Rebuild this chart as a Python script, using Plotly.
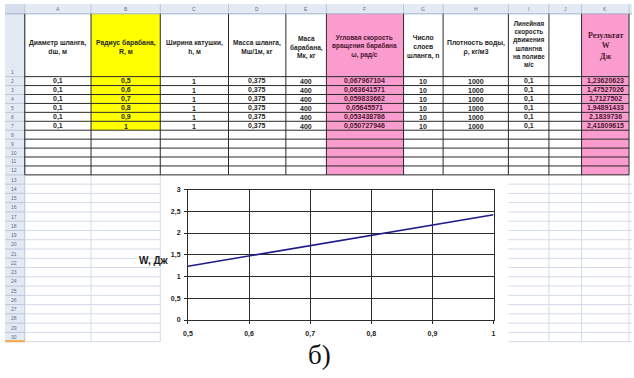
import plotly.graph_objects as go

# ---------------- data ----------------
col_letters = ["A", "B", "C", "D", "E", "F", "G", "H", "I", "J", "K"]
header_texts = [
    "Диаметр шланга,<br>dш, м",
    "Радиус барабана,<br>R, м",
    "Ширина катушки,<br>h, м",
    "Масса шланга,<br>Мш/1м, кг",
    "Маса<br>барабана,<br>Мк, кг",
    "Угловая скорость<br>вращения барабана<br>ω, рад/с",
    "Число<br>слоев<br>шланга, n",
    "Плотность воды,<br>ρ, кг/м3",
    "Линейная<br>скорость<br>движения<br>шлангна<br>на поливе<br>м/с",
    "",
    "Результат<br>W<br>Дж",
]
hose_diameter = [0.1, 0.1, 0.1, 0.1, 0.1, 0.1]
drum_radius = [0.5, 0.6, 0.7, 0.8, 0.9, 1]
coil_width = [1, 1, 1, 1, 1, 1]
hose_mass = [0.375, 0.375, 0.375, 0.375, 0.375, 0.375]
drum_mass = [400, 400, 400, 400, 400, 400]
angular_speed = [0.067967104, 0.063641571, 0.059833662, 0.05645571, 0.053438786, 0.050727946]
layers = [10, 10, 10, 10, 10, 10]
water_density = [1000, 1000, 1000, 1000, 1000, 1000]
linear_speed = [0.1, 0.1, 0.1, 0.1, 0.1, 0.1]
energy_w = [1.23620623, 1.47527026, 1.7127502, 1.94891433, 2.1839736, 2.41809615]

x_ticks = [0.5, 0.6, 0.7, 0.8, 0.9, 1]
y_ticks = [0, 0.5, 1, 1.5, 2, 2.5, 3]

# ---------------- sheet geometry (pixels) ----------------
W_PX, H_PX = 634, 378
col_edges = [20, 87, 157, 226, 284, 325, 403, 443, 509, 550, 583, 631]
hdr_h = 10
row1_bottom = 74
data_row_h = 9.1
n_table_rows = 11          # rows 2..12
lower_row_h = 9.44
n_lower_rows = 18          # rows 13..30
table_bottom = row1_bottom + data_row_h * n_table_rows
sheet_bottom = table_bottom + lower_row_h * n_lower_rows

HDR_FILL = "#e3eaf4"
HDR_LINE = "#b9c8db"
GRID = "#d3dbe7"
BORDER = "#2a2a2a"
YELLOW = "#ffff00"
PINK = "#fa9ccd"
TEXT = "#262626"
DARK_PINK_TEXT = "#4a1630"

SANS = "Liberation Sans"
SERIF = "Liberation Serif"


def px(x):
    return x / W_PX


def py(y):
    return 1 - y / H_PX


def fmt(v):
    if float(v) == int(v):
        return str(int(v))
    return repr(float(v)).replace(".", ",")


shapes = []
annotations = []


def rect(x0, y0, x1, y1, fill, line=None):
    shapes.append(dict(type="rect", xref="paper", yref="paper",
                       x0=px(x0), x1=px(x1), y0=py(y1), y1=py(y0),
                       fillcolor=fill, line=dict(width=0) if line is None else line,
                       layer="below"))


def seg(x0, y0, x1, y1, color, width=1):
    shapes.append(dict(type="line", xref="paper", yref="paper",
                       x0=px(x0), x1=px(x1), y0=py(y0), y1=py(y1),
                       line=dict(color=color, width=width)))


def text(x, y, s, size=7, color=TEXT, bold=True, family=SANS, xanchor="center"):
    annotations.append(dict(xref="paper", yref="paper", x=px(x), y=py(y), text=s,
                            showarrow=False, xanchor=xanchor, yanchor="middle",
                            font=dict(size=size, color=color, family=family,
                                      weight="bold" if bold else "normal")))


# header bands
rect(0, 0, W_PX, hdr_h, HDR_FILL)
rect(0, hdr_h, col_edges[0], sheet_bottom, HDR_FILL)
rect(0, 0, col_edges[0], hdr_h, "#d5deea")

# coloured columns
rect(col_edges[1], hdr_h, col_edges[2], row1_bottom + data_row_h * 6, YELLOW)
rect(col_edges[5], hdr_h, col_edges[6], table_bottom, PINK)
rect(col_edges[10], hdr_h, col_edges[11], table_bottom, PINK)

# column header separators and letters
for xe in col_edges:
    seg(xe, 0, xe, hdr_h, HDR_LINE)
seg(0, hdr_h, W_PX, hdr_h, "#9fb3cc")
for i, letter in enumerate(col_letters):
    text((col_edges[i] + col_edges[i + 1]) / 2, 5, letter, size=5, color="#5b6f8c", bold=False)

# row number column
row_bounds = [hdr_h, row1_bottom]
row_bounds += [row1_bottom + data_row_h * k for k in range(1, n_table_rows + 1)]
row_bounds += [table_bottom + lower_row_h * k for k in range(1, n_lower_rows + 1)]
seg(col_edges[0], hdr_h, col_edges[0], sheet_bottom, HDR_LINE)
for yb in row_bounds[1:]:
    seg(0, yb, col_edges[0], yb, HDR_LINE)
for r in range(1, len(row_bounds)):
    y_mid = (row_bounds[r - 1] + row_bounds[r]) / 2 if r > 1 else row_bounds[1] - 5
    text(4, y_mid, str(r), size=5, color="#5b6f8c", bold=False, xanchor="left")
seg(0, sheet_bottom - 0.5, col_edges[0], sheet_bottom - 0.5, "#f2a845", 2)

# light grid below the table (outside the chart object)
for yb in row_bounds[n_table_rows + 2:]:
    seg(col_edges[0], yb, col_edges[2], yb, GRID)
    seg(col_edges[8], yb, W_PX, yb, GRID)
for xe in [col_edges[1], col_edges[2], col_edges[9], col_edges[10], col_edges[11]]:
    seg(xe, table_bottom, xe, sheet_bottom, GRID)

# table borders
for xe in col_edges:
    seg(xe, hdr_h, xe, table_bottom, BORDER)
for yb in row_bounds[1:n_table_rows + 2]:
    seg(col_edges[0], yb, col_edges[-1], yb, BORDER)

# header row text
for i, h in enumerate(header_texts):
    if not h:
        continue
    xc = (col_edges[i] + col_edges[i + 1]) / 2
    if i == 10:
        text(xc, 43, h, size=8, color=DARK_PINK_TEXT, family=SERIF)
    elif i == 5:
        text(xc, 43, h, size=6.5, color=DARK_PINK_TEXT)
    elif i == 8:
        text(xc, 41, h, size=6.3)
    elif i in (2, 3, 4):
        text(xc, 44, h, size=6.6)
    else:
        text(xc, 44, h, size=6.8)

# data rows
columns = [hose_diameter, drum_radius, coil_width, hose_mass, drum_mass,
           angular_speed, layers, water_density, linear_speed, None, energy_w]
for i, col in enumerate(columns):
    if col is None:
        continue
    xc = (col_edges[i] + col_edges[i + 1]) / 2
    color = DARK_PINK_TEXT if i in (5, 10) else TEXT
    for r, v in enumerate(col):
        y_mid = row1_bottom + data_row_h * (r + 0.5)
        text(xc, y_mid + 0.3, fmt(v), size=7, color=color)

# chart axis title and caption
text(151, 261, "W, Дж", size=10, color="#1a1a1a", family=SANS)
text(318, 358, "б)", size=27, color="#111111", bold=False, family=SERIF)

# ---------------- chart ----------------
fig = go.Figure()
fig.add_trace(go.Scatter(x=drum_radius, y=energy_w, mode="lines",
                         line=dict(color="#1c1c8a", width=1.6),
                         hoverinfo="skip", showlegend=False))

axis_font = dict(size=7, color="#222222", family=SANS, weight="bold")
fig.update_layout(
    width=W_PX, height=H_PX,
    margin=dict(l=0, r=0, t=0, b=0),
    paper_bgcolor="white", plot_bgcolor="white",
    separators=", ",
    shapes=shapes, annotations=annotations,
    xaxis=dict(domain=[px(185), px(494)], range=[0.5, 1], tickvals=x_ticks,
               ticktext=[fmt(v) for v in x_ticks],
               showgrid=True, gridcolor="#2b2b2b", gridwidth=1,
               showline=True, mirror=True, linecolor="#2b2b2b", linewidth=1,
               ticks="outside", ticklen=3, tickcolor="#2b2b2b",
               ticklabelstandoff=4,
               tickfont=axis_font, zeroline=False, fixedrange=True),
    yaxis=dict(domain=[py(322), py(189)], range=[0, 3], tickvals=y_ticks,
               ticktext=[fmt(v) for v in y_ticks],
               showgrid=True, gridcolor="#2b2b2b", gridwidth=1,
               showline=True, mirror=True, linecolor="#2b2b2b", linewidth=1,
               ticks="outside", ticklen=3, tickcolor="#2b2b2b",
               ticklabelstandoff=2,
               tickfont=axis_font, zeroline=False, fixedrange=True),
)

fig.write_html("out.html")
